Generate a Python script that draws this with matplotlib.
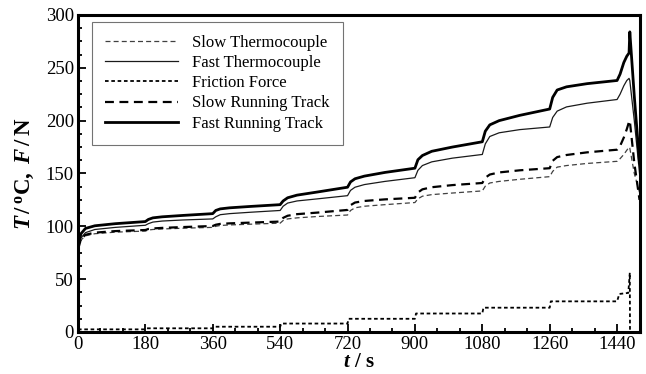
import numpy as np
import matplotlib.pyplot as plt
from matplotlib.ticker import MultipleLocator

###### data

# time grid shared by the four temperature curves
t = [0, 8, 20, 45, 100,
     180, 188, 200, 225, 280,
     360, 368, 380, 405, 460,
     540, 548, 560, 585, 640,
     720, 728, 740, 765, 820,
     900, 908, 920, 945, 1000,
     1080, 1088, 1100, 1125, 1180,
     1260, 1268, 1280, 1305, 1360,
     1440, 1448, 1458, 1466, 1472, 1474, 1486, 1500]

fast_track = [82, 93, 98, 100.5, 102.5,
              104.5, 106.5, 108, 109, 110.3,
              112, 115, 116.5, 117.5, 118.8,
              120.5, 124, 127, 129.5, 132.5,
              137, 142, 145, 147.5, 151,
              155, 163, 167, 171, 175,
              180, 190, 196, 200, 205,
              211, 222, 229, 232, 235,
              238, 244, 255, 261, 264, 284, 223, 160]

fast_tc = [80, 89, 94, 97, 99,
           101, 102.5, 104, 105, 106,
           107, 109, 111, 112, 113.3,
           115, 119, 122, 124, 126,
           129, 134, 137, 139.5, 142.5,
           146, 153, 157.5, 161, 164.5,
           168, 178, 185, 188.5, 191.5,
           194, 203, 209, 213, 216.5,
           220, 225, 233, 238, 240, 238, 200, 150]

slow_track = [78, 88, 92, 94, 95.5,
              96.5, 97.5, 98, 98.5, 99.3,
              100.3, 101.5, 102.3, 102.8, 103.5,
              104.5, 108, 110, 111.5, 113,
              115.5, 120, 122.5, 124, 125.5,
              127, 132, 135, 137, 139,
              141, 146, 149, 151, 153,
              155, 162, 165.5, 167.5, 170,
              172.5, 176, 184, 192, 199, 200, 160, 125]

slow_tc = [78, 87, 91, 93, 94.5,
           95.5, 96.5, 97, 97.5, 98.2,
           99, 100, 100.8, 101.3, 102,
           103, 105.5, 107, 108, 109.3,
           110.7, 115, 117.5, 119, 120.5,
           122.5, 126, 128.5, 130, 131.5,
           133.5, 138, 141, 142.5, 144.5,
           147, 152, 156, 157.5, 159.5,
           161.5, 164, 168, 172, 175, 174, 150, 132]

# friction force (stepped)
t_f = [0, 180, 183, 360, 363, 540, 543, 720, 723, 900, 903,
       1080, 1083, 1260, 1263, 1440, 1446, 1470, 1474, 1474.5]
friction = [2.5, 2.5, 3.5, 3.5, 5, 5, 8, 8, 12.5, 12.5, 17.5,
            17.5, 23, 23, 29, 29, 36, 37, 56, 0]

x_ticks = [0, 180, 360, 540, 720, 900, 1080, 1260, 1440]


def main():

    plt.rcParams['font.family'] = 'Liberation Serif'
    plt.rcParams['mathtext.fontset'] = 'custom'
    plt.rcParams['mathtext.it'] = 'Liberation Serif:italic:bold'
    plt.rcParams['mathtext.rm'] = 'Liberation Serif:bold'
    plt.rcParams['mathtext.bf'] = 'Liberation Serif:bold'

    fig = plt.figure(figsize=(6.46, 3.74), dpi=100)
    ax = fig.add_axes([0.1207, 0.1123, 0.8693, 0.8477])

    ax.plot(t, slow_tc, color='0.25', ls=(0, (4, 2.5)), lw=0.9, label='Slow Thermocouple')
    ax.plot(t, fast_tc, color='0.1', ls='-', lw=0.9, label='Fast Thermocouple')
    ax.plot(t_f, friction, color='k', ls=(0, (2, 1.5)), lw=1.3, label='Friction Force')
    ax.plot(t, slow_track, color='k', ls=(0, (4, 2.5)), lw=1.6, label='Slow Running Track')
    ax.plot(t, fast_track, color='k', ls='-', lw=2.0, label='Fast Running Track')

    ax.set_xlim(0, 1500)
    ax.set_ylim(0, 300)
    ax.set_xticks(x_ticks)
    ax.xaxis.set_minor_locator(MultipleLocator(60))
    ax.yaxis.set_major_locator(MultipleLocator(50))
    ax.yaxis.set_minor_locator(MultipleLocator(12.5))
    ax.tick_params(which='both', direction='in', top=False, right=False,
                   width=1.3, labelsize=13.5, pad=3)
    ax.tick_params(which='major', length=6)
    ax.tick_params(which='minor', length=3)
    for s in ax.spines.values():
        s.set_linewidth(2.2)

    ax.set_xlabel(r'$t\ /\ \mathrm{s}$', fontsize=15, labelpad=0)
    ax.set_ylabel(r'$T\,/\,^{\mathrm{o}}\mathrm{C},\ F\,/\,\mathrm{N}$', fontsize=16.5, labelpad=6)

    leg = ax.legend(loc='upper left', bbox_to_anchor=(0.0244, 0.979), borderaxespad=0,
                    fontsize=12, handlelength=4.4, handletextpad=0.8, labelspacing=0.25,
                    fancybox=False, framealpha=1, borderpad=0.8)
    leg.get_frame().set_edgecolor('0.45')
    leg.get_frame().set_linewidth(0.8)

    fig.savefig('out.png', dpi=100)


if __name__ == "__main__":
    main()
